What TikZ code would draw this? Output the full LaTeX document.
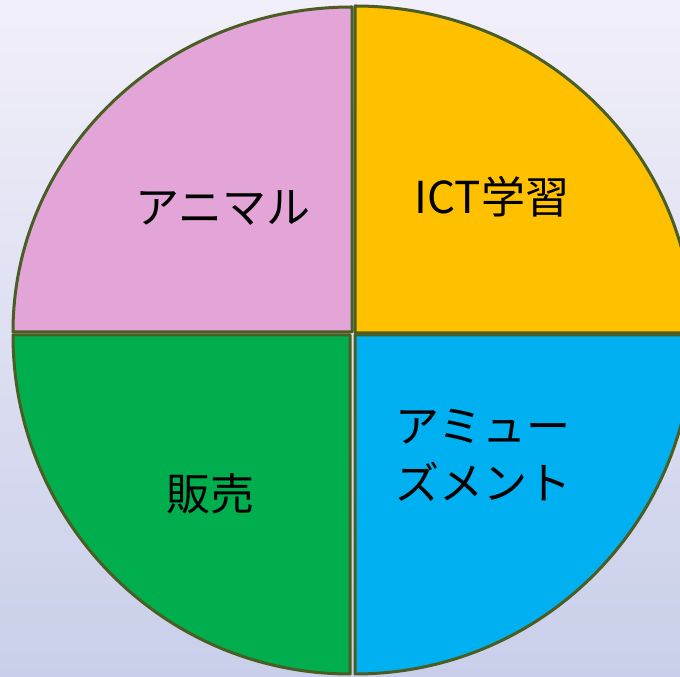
\documentclass[tikz,border=0pt]{standalone}
\usepackage{fontspec}
\setmainfont{Noto Sans CJK JP}
\definecolor{bgtop}{HTML}{F1EFF9}
\definecolor{bgbot}{HTML}{C9CFEA}
\definecolor{edge}{HTML}{4A5E23}
\definecolor{pinkq}{HTML}{E3A5D8}
\definecolor{yellowq}{HTML}{FFC000}
\definecolor{greenq}{HTML}{00AE4E}
\definecolor{blueq}{HTML}{00B0F0}
\tikzset{
  quad/.style={draw=edge, line width=3pt, line join=round},
  lbl/.style={font=\fontsize{44}{57}\selectfont, text=black, align=center, inner sep=0pt}
}
\begin{document}
\begin{tikzpicture}[x=1pt,y=1pt]
\useasboundingbox (0,0) rectangle (680,677);
\shade[top color=bgtop, bottom color=bgbot] (0,0) rectangle (680,677);
\begin{scope}
\clip (0,0) rectangle (680,677);
% pink (top-left)
\coordinate (cpink) at (352,345);
\path[quad, fill=pinkq] (cpink) -- (352,670) arc[start angle=90, end angle=180, x radius=339pt, y radius=325pt] -- cycle;
% yellow (top-right)
\coordinate (cyel) at (355,344);
\path[quad, fill=yellowq] (cyel) -- (355,671) arc[start angle=90, end angle=0, x radius=338pt, y radius=327pt] -- cycle;
% green (bottom-left)
\coordinate (cgrn) at (350,342);
\path[quad, fill=greenq] (cgrn) -- (13,342) arc[start angle=180, end angle=270, x radius=337pt, y radius=339pt] -- cycle;
% blue (bottom-right)
\coordinate (cblu) at (355,342);
\path[quad, fill=blueq] (cblu) -- (355,3) arc[start angle=270, end angle=360, x radius=338pt, y radius=339pt] -- cycle;
\end{scope}
\node[lbl] (animal) at (223,469) {アニマル};
\node[lbl] (ict) at (492,480) {ICT学習};
\node[lbl] (hanbai) at (210,183) {販売};
\node[lbl] (amuse) at (483,222) {アミュー\\ズメント};
\end{tikzpicture}
\end{document}
